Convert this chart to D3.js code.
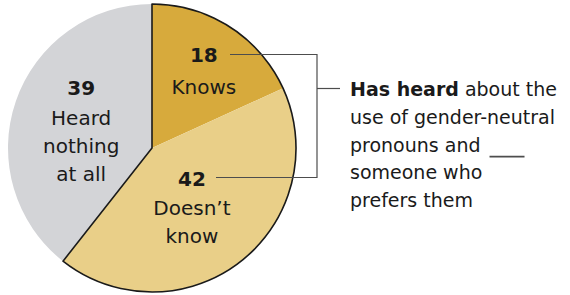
<!DOCTYPE html>
<html>
<head>
<meta charset="utf-8">
<script src="https://cdn.jsdelivr.net/npm/d3@7/dist/d3.min.js"></script>
<style>
  body { margin: 0; background: #fff; }
  text { font-family: "DejaVu Sans", sans-serif; fill: #1a1a1a; }
</style>
</head>
<body>
<div id="chart"></div>
<script>
// data
const categories = ["Knows", "Doesn't know", "Heard nothing at all"];
const values = [18, 42, 39];
const labelLines = [["Knows"], ["Doesn\u2019t", "know"], ["Heard", "nothing", "at all"]];
const colors = ["#d7aa3c", "#e9cf88", "#d3d4d7"];
const noteLines = [
  [{ t: "Has heard", b: true }, { t: " about the", b: false }],
  [{ t: "use of gender-neutral", b: false }],
  [{ t: "pronouns and", b: false }],
  [{ t: "someone who", b: false }],
  [{ t: "prefers them", b: false }]
];

const width = 570, height = 295;
const cx = 152, cy = 148, r = 144;

const svg = d3.select("#chart").append("svg")
  .attr("width", width).attr("height", height);

const g = svg.append("g").attr("transform", `translate(${cx},${cy})`);

const pie = d3.pie().sort(null).value(d => d);
const arcs = pie(values);
const arc = d3.arc().innerRadius(0).outerRadius(r);

g.selectAll("path.slice")
  .data(arcs)
  .join("path")
  .attr("class", "slice")
  .attr("d", arc)
  .attr("fill", (d, i) => colors[i]);

// outline around the "has heard" group (first two slices)
const heard = d3.arc().innerRadius(0).outerRadius(r)
  .startAngle(arcs[0].startAngle).endAngle(arcs[1].endAngle);
g.append("path")
  .attr("d", heard())
  .attr("fill", "none")
  .attr("stroke", "#1a1a1a")
  .attr("stroke-width", 1.6)
  .attr("stroke-linejoin", "round");

// labels: placed near slice centroids, nudged
const labelArc = d3.arc().innerRadius(0).outerRadius(r * 1.1);
const nudges = [[9, -19.5], [-9, -24], [4, -27]];
const numGap = [32, 29, 30];
const lineH = 28;

arcs.forEach((a, i) => {
  const [x, y] = labelArc.centroid(a);
  const lx = x + nudges[i][0];
  const base = y + nudges[i][1];
  const t = g.append("text")
    .attr("text-anchor", "middle")
    .attr("font-size", 20);
  t.append("tspan")
    .attr("x", lx).attr("y", base)
    .attr("font-weight", "bold")
    .text(values[i]);
  labelLines[i].forEach((s, k) => {
    t.append("tspan")
      .attr("x", lx).attr("y", base + numGap[i] + k * lineH)
      .text(s);
  });
});

// bracket / leader lines
const bx = 317;
const lines = svg.append("g")
  .attr("stroke", "#4d4d4d")
  .attr("stroke-width", 1.2)
  .attr("fill", "none");
lines.append("path").attr("d", `M230,54.5H${bx}V177.5H216`);
lines.append("path").attr("d", `M${bx},88.5H340`);

// note text
const nx = 350, ny0 = 96, nLine = 27.8;
const note = svg.append("text").attr("font-size", 19);
noteLines.forEach((parts, k) => {
  parts.forEach((p, j) => {
    const ts = note.append("tspan")
      .attr("font-weight", p.b ? "bold" : "normal")
      .text(p.t);
    if (j === 0) ts.attr("x", nx).attr("y", ny0 + k * nLine);
  });
});

// the blank after "pronouns and"
const pn = note.selectAll("tspan").nodes()[3];
const bbox = pn.getBBox();
svg.append("line")
  .attr("x1", bbox.x + bbox.width + 9).attr("x2", bbox.x + bbox.width + 44)
  .attr("y1", ny0 + 2 * nLine + 5).attr("y2", ny0 + 2 * nLine + 5)
  .attr("stroke", "#4d4d4d").attr("stroke-width", 1.6);
</script>
</body>
</html>
